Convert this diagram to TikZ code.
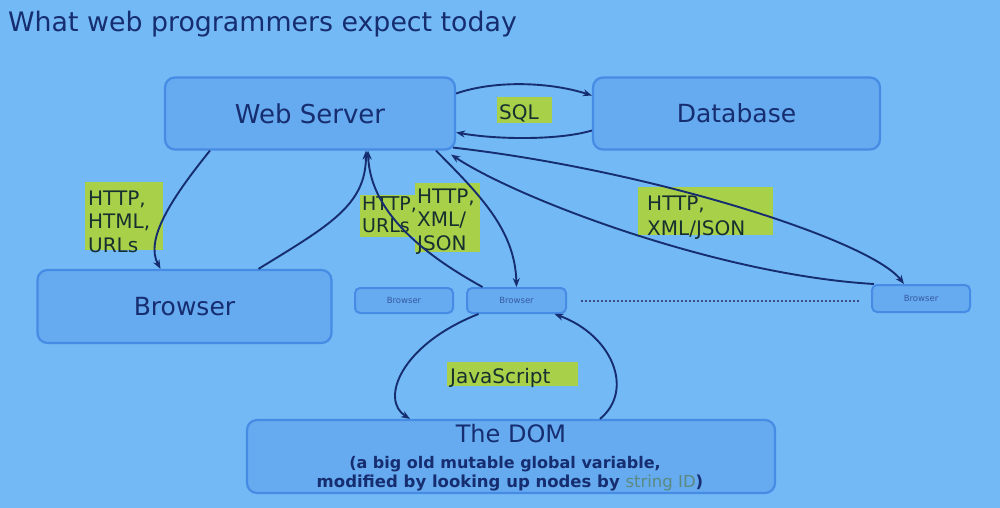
\documentclass[tikz,border=0pt]{standalone}
\usepackage{fontspec}
\setmainfont{DejaVu Sans}
\usetikzlibrary{arrows.meta}
\definecolor{bg}{RGB}{115,185,245}
\definecolor{boxfill}{RGB}{102,170,240}
\definecolor{boxline}{RGB}{70,140,228}
\definecolor{ink}{RGB}{22,45,112}
\definecolor{hlfill}{RGB}{168,208,72}
\definecolor{hlink}{RGB}{22,48,48}
\definecolor{strid}{RGB}{90,138,128}
\definecolor{smallink}{RGB}{55,90,160}
\begin{document}
\begin{tikzpicture}[x=1pt,y=-1pt,
  bigbox/.style={draw=boxline, line width=2.2pt, fill=boxfill, rounded corners=10pt,
    text=ink, inner sep=0pt, font=\fontsize{25}{30}\selectfont},
  smallbox/.style={draw=boxline, line width=2pt, fill=boxfill, rounded corners=5pt,
    text=smallink, inner sep=0pt, font=\fontsize{8.5}{10}\selectfont,
    minimum height=25pt},
  hl/.style={fill=hlfill, text=hlink, anchor=base west, inner ysep=0pt,
    align=left, font=\fontsize{20}{23.5}\selectfont},
  conn/.style={draw=ink, line width=1.9pt, -{Stealth[length=9pt,width=7pt]}},
  domtext/.style={text=ink, inner sep=0pt, anchor=base}
]
\useasboundingbox[fill=bg] (0,0) rectangle (1000,508);

% title
\node[text=ink, anchor=base west, inner sep=0pt, font=\fontsize{26.8}{30}\selectfont]
  (title) at (8,32) {What web programmers expect today};

% main boxes
\node[bigbox, minimum width=290pt, minimum height=72pt, font=\fontsize{26}{30}\selectfont]
  (ws) at (310,113.5) {Web Server};
\node[bigbox, minimum width=287pt, minimum height=72pt] (db) at (736.5,113.5) {Database};
\node[bigbox, minimum width=294pt, minimum height=73pt] (br) at (184.5,306.5) {Browser};
\node[smallbox, minimum width=98pt] (b1) at (404,300.5) {Browser};
\node[smallbox, minimum width=99pt] (b2) at (516.5,300.5) {Browser};
\node[smallbox, minimum width=98pt, minimum height=27pt] (b3) at (921,298.5) {Browser};
\node[bigbox, minimum width=528pt, minimum height=73pt] (dom) at (511,456.5) {};

\node[domtext, font=\fontsize{24}{28}\selectfont] (domt) at (511,442) {The DOM};
\node[domtext, font=\fontsize{16}{20}\selectfont\bfseries] (doml1) at (505,468)
  {(a big old mutable global variable,};
\node[domtext, font=\fontsize{16.5}{20}\selectfont\bfseries] (doml2) at (510,487)
  {modified by looking up nodes by \textcolor{strid}{\mdseries string ID})};

% highlighted labels
\node[hl, inner xsep=3pt, text width=72pt, text height=23pt, text depth=45pt]
  (l1) at (85,205) {HTTP,\\HTML,\\URLs};
\node[hl, inner xsep=2pt, text width=51pt, text height=23pt, text depth=3pt]
  (l2) at (497,120) {SQL};
\node[hl, inner xsep=2pt, text width=51pt, text height=15pt, text depth=27pt,
  font=\fontsize{19}{22}\selectfont]
  (l3) at (360,210) {HTTP,\\URLs};
\node[hl, inner xsep=2pt, text width=61pt, text height=20pt, text depth=49pt]
  (l4) at (415,203) {HTTP,\\XML/\\JSON};
\node[hl, inner xsep=9pt, text width=117pt, text height=23pt, text depth=25pt,
  font=\fontsize{20}{25}\selectfont]
  (l5) at (638,210) {HTTP,\\XML/JSON};
\node[hl, inner xsep=3pt, text width=125pt, text height=21pt, text depth=3pt]
  (l6) at (447,383) {JavaScript};

% connectors
\draw[conn] ([yshift=20pt]ws.east) .. controls (495,80) and (550,82) .. ([yshift=18pt]db.west);
\draw[conn] ([yshift=-17pt]db.west) .. controls (560,140) and (500,140) .. ([yshift=-19pt]ws.east);
\draw[conn] ([xshift=-100pt]ws.south) .. controls (170,200) and (145,240) .. ([xshift=-24pt]br.north);
\draw[conn] ([xshift=74pt]br.north) .. controls (330,225) and (366,205) .. ([xshift=56pt]ws.south);
\draw[conn] ([xshift=-34pt]b2.north) .. controls (430,258) and (370,215) .. ([xshift=58pt]ws.south);
\draw[conn] ([xshift=126pt]ws.south) .. controls (480,195) and (515,230) .. (b2.north);
\draw[conn] ([xshift=-3pt,yshift=3pt]ws.south east) .. controls (650,170) and (870,240) .. ([xshift=-17pt]b3.north);
\draw[conn] ([xshift=3pt]b3.north west) .. controls (720,275) and (520,200) .. ([xshift=-5pt,yshift=-4pt]ws.south east);
\draw[conn] ([xshift=-38pt]b2.south) .. controls (400,345) and (380,400) .. ([xshift=-101pt]dom.north);
\draw[conn] ([xshift=89pt]dom.north) .. controls (635,390) and (612,335) .. ([xshift=38pt]b2.south);

% dotted continuation
\draw[ink!85, line width=2pt, dash pattern=on 2pt off 2pt]
  ([xshift=14pt]b2.east) -- ([xshift=-11pt,yshift=-2pt]b3.west);
\end{tikzpicture}
\end{document}
